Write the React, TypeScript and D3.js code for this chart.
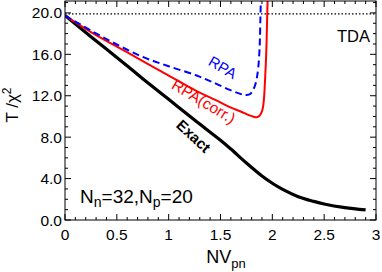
import React from "react";
import * as d3 from "d3";

const exactX = [0, 0.25, 0.5, 0.75, 1.0, 1.25, 1.5, 1.6, 1.75, 1.9, 2.0, 2.1, 2.25, 2.4, 2.5, 2.7, 2.9];
const exactY = [19.75, 17.7, 15.7, 13.65, 11.65, 9.65, 7.7, 6.85, 5.5, 4.25, 3.55, 2.95, 2.25, 1.8, 1.55, 1.2, 0.97];

const rpaX = [0, 0.25, 0.5, 0.75, 1.0, 1.27, 1.45, 1.59, 1.67, 1.72, 1.75, 1.79, 1.83, 1.85, 1.865, 1.875, 1.88, 1.885, 1.89];
const rpaY = [19.75, 18.3, 16.95, 15.75, 14.85, 13.95, 13.2, 12.56, 12.25, 12.1, 12.07, 12.2, 12.9, 13.7, 14.8, 16.2, 17.4, 19.5, 21.5];

const corrX = [0, 0.3, 0.627, 0.945, 1.27, 1.45, 1.59, 1.7, 1.78, 1.82, 1.85, 1.88, 1.9, 1.91, 1.92, 1.93, 1.94, 1.945, 1.95, 1.955];
const corrY = [19.75, 17.85, 16.05, 14.25, 12.45, 11.6, 10.9, 10.45, 10.1, 9.97, 9.92, 10.1, 10.5, 10.9, 11.8, 13.6, 15.8, 17.4, 19.5, 21.5];

const tdaY = 19.9;
const xTicks = [0, 0.5, 1, 1.5, 2, 2.5, 3];
const xTickLabels = ["0", "0.5", "1", "1.5", "2", "2.5", "3"];
const yTicks = [0, 4, 8, 12, 16, 20];
const yTickLabels = ["0.0", "4.0", "8.0", "12.0", "16.0", "20.0"];

const W = 382, H = 272;
const L = 65, R = 376, T = 1, B = 220;
const FONT = "Liberation Sans, Arial, sans-serif";

export default function App() {
  const x = d3.scaleLinear().domain([0, 3]).range([L, R]);
  const y = d3.scaleLinear().domain([0, 21.15]).range([B, T]);
  const mk = (xs: number[], ys: number[]) =>
    d3.line<[number, number]>().x(d => x(d[0])).y(d => y(d[1])).curve(d3.curveCatmullRom.alpha(0.5))(xs.map((v, i) => [v, ys[i]]))!;

  const xMinor = d3.range(0, 3.0001, 0.1);
  const yMinor = d3.range(0, 21.001, 1);

  return (
    <svg width={W} height={H} style={{ position: "absolute", left: 0, top: 0 }} fontFamily={FONT}>
      <defs>
        <clipPath id="clip">
          <rect x={L} y={T} width={R - L} height={B - T} />
        </clipPath>
      </defs>
      <rect x={0} y={0} width={W} height={H} fill="white" />
      <g clipPath="url(#clip)">
        <line x1={L} x2={R} y1={y(tdaY)} y2={y(tdaY)} stroke="black" strokeWidth={1.3} strokeDasharray="1.5,2" />
        <path d={mk(exactX, exactY)} fill="none" stroke="black" strokeWidth={3.2} />
        <path d={mk(corrX, corrY)} fill="none" stroke="#ff0000" strokeWidth={2} />
        <path d={mk(rpaX, rpaY)} fill="none" stroke="#0000ff" strokeWidth={2} strokeDasharray="7,4" />
      </g>
      {xMinor.map((v, i) => {
        const major = Math.abs(v * 2 - Math.round(v * 2)) < 1e-6;
        const len = major ? 6 : 3;
        return (
          <g key={"xm" + i}>
            <line x1={x(v)} x2={x(v)} y1={B} y2={B - len} stroke="black" strokeWidth={1} />
            <line x1={x(v)} x2={x(v)} y1={T} y2={T + len} stroke="black" strokeWidth={1} />
          </g>
        );
      })}
      {yMinor.map((v, i) => {
        const major = v % 4 === 0;
        const len = major ? 6 : 3;
        return (
          <g key={"ym" + i}>
            <line x1={L} x2={L + len} y1={y(v)} y2={y(v)} stroke="black" strokeWidth={1} />
            <line x1={R} x2={R - len} y1={y(v)} y2={y(v)} stroke="black" strokeWidth={1} />
          </g>
        );
      })}
      <rect x={L} y={T} width={R - L} height={B - T} fill="none" stroke="black" strokeWidth={1} />
      {xTicks.map((v, i) => (
        <text key={"xl" + i} x={x(v)} y={240} fontSize={15.5} textAnchor="middle">{xTickLabels[i]}</text>
      ))}
      {yTicks.map((v, i) => (
        <text key={"yl" + i} x={L - 3} y={y(v) + 5.5} fontSize={15.5} textAnchor="end">{yTickLabels[i]}</text>
      ))}
      <text x={226} y={263} fontSize={18} textAnchor="middle">NV<tspan fontSize={13} dy={5}>pn</tspan></text>
      <text transform={`translate(18,${105}) rotate(-90)`} fontSize={17} textAnchor="middle">T /χ<tspan fontSize={12} dy={-7}>2</tspan></text>
      <text x={80} y={203} fontSize={19}>N<tspan fontSize={14} dy={4}>n</tspan><tspan dy={-4}>=32,N</tspan><tspan fontSize={14} dy={4}>p</tspan><tspan dy={-4}>=20</tspan></text>
      <text x={370} y={42} fontSize={16.5} textAnchor="end">TDA</text>
      <text transform={`translate(220,72) rotate(30)`} fontSize={15} fill="#0000ff" textAnchor="middle">RPA</text>
      <text transform={`translate(201,106) rotate(31)`} fontSize={15.5} fill="#ff0000" textAnchor="middle">RPA(corr.)</text>
      <text transform={`translate(190,140) rotate(43)`} fontSize={15} fontWeight="bold" fill="black" textAnchor="middle">Exact</text>
    </svg>
  );
}
